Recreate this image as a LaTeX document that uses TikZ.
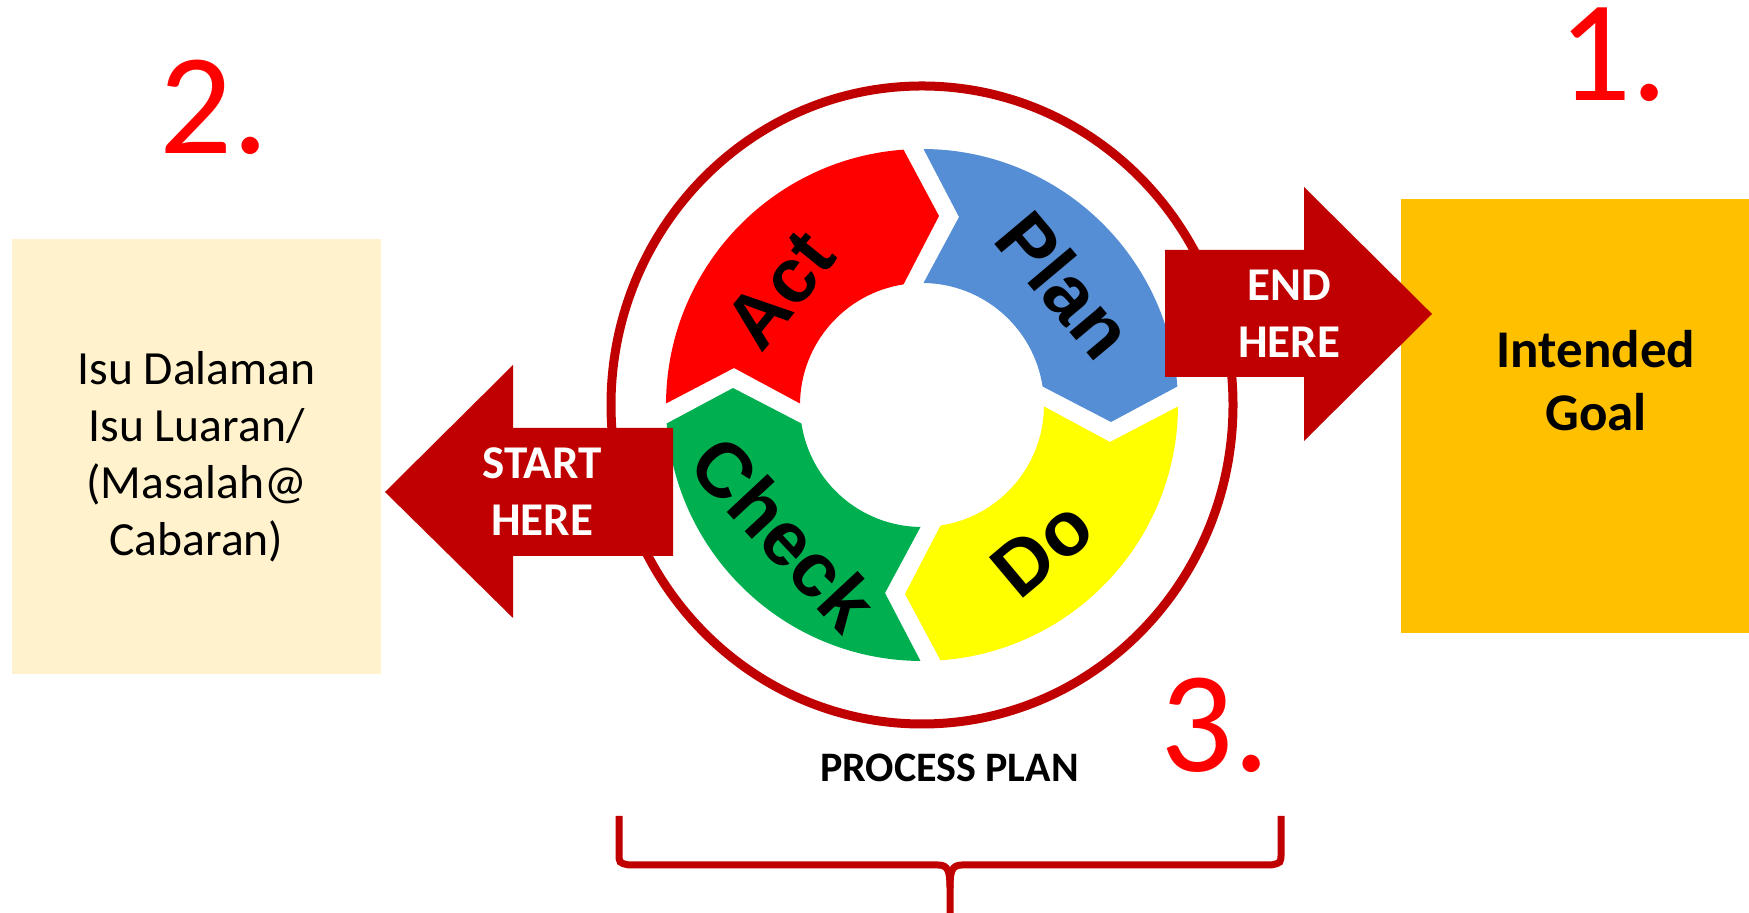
\documentclass[tikz,border=0pt]{standalone}
\usepackage{fontspec}
\setmainfont{Carlito}
\newfontfamily\pdcafont{Liberation Sans}
\definecolor{darkred}{HTML}{C00000}
\definecolor{numred}{HTML}{FF0000}
\definecolor{isucream}{HTML}{FFF2CC}
\definecolor{goalgold}{HTML}{FFC000}
\definecolor{planblue}{HTML}{558ED5}
\definecolor{doyellow}{HTML}{FFFF00}
\definecolor{checkgreen}{HTML}{00B050}
\definecolor{actred}{HTML}{FF0000}
\tikzset{
    num/.style={text=numred, font=\fontsize{72}{84}\selectfont, anchor=base},
    arrowtext/.style={text=white, align=center, font=\fontsize{23.5}{28.5}\selectfont\bfseries},
    pdca/.style={font=\pdcafont\fontsize{38.5}{46}\selectfont\bfseries, inner sep=0pt},
}

\begin{document}
\begin{tikzpicture}[x=0.5pt,y=0.5pt]
    \useasboundingbox (0,0) rectangle (1749,913);
    \coordinate (c) at (922,508);
    \draw[darkred, line width=4.5pt] (c) ellipse [x radius=311, y radius=319];
    % the four arrows of the cycle
    \foreach \k/\col in {0/planblue,1/doyellow,2/checkgreen,3/actred}{
        \begin{scope}[shift={(c)}, rotate=-90*\k]
            \fill[\col] (89.66:256) arc[start angle=89.66, end angle=4.14, radius=256] -- (189,-17) -- (8.72:122) arc[start angle=8.72, end angle=89.3, radius=122] -- (37,188) -- cycle;
        \end{scope}
    }
    \node[pdca, rotate=-50] (plan) at ([shift={(40:187)}]c) {Plan};
    \node[pdca, rotate=40] (do) at ([shift={(-50:187)}]c) {Do};
    \node[pdca, rotate=-47] (check) at ([shift={(223:188)}]c) {Check};
    \node[pdca, rotate=51] (act) at ([shift={(141:183)}]c) {Act};
    % left side
    \node[fill=isucream, minimum width=184.5pt, minimum height=217.5pt, align=center, font=\fontsize{23.8}{28.5}\selectfont] (isu) at (196.5,456.5) {Isu Dalaman\\Isu Luaran/\\(Masalah@\\Cabaran)};
    \fill[darkred] (385,421) -- (513,548) -- (513,485) -- (673,485) -- (673,357) -- (513,357) -- (513,295) -- cycle;
    \node[arrowtext] (start) at (542,421) {START\\HERE};
    % right side
    \node[fill=goalgold, minimum width=174pt, minimum height=217pt] (goalbox) at (1575,497) {};
    \node[align=center, font=\fontsize{26.5}{31.5}\selectfont\bfseries] (goal) at (1596,532) {Intended\\Goal};
    \fill[darkred] (1165,663) -- (1304,663) -- (1304,726) -- (1432,599) -- (1304,472) -- (1304,536) -- (1165,536) -- cycle;
    \node[arrowtext] (end) at (1289,599) {END\\HERE};
    % numbers
    \node[num] (one) at (1613,812) {1.};
    \node[num] (two) at (214,759) {2.};
    \node[num] (three) at (1215,141) {3.};
    % bottom
    \node[anchor=base, font=\fontsize{21}{24}\selectfont\bfseries] (process) at (949.5,131) {PROCESS PLAN};
    \draw[darkred, line width=3.5pt] (619,97) -- (619,60) .. controls (619,50) .. (629,48) -- (938,48) .. controls (948,48) and (950,42) .. (950,25) -- (950,-5);
    \draw[darkred, line width=3.5pt] (1281,97) -- (1281,60) .. controls (1281,50) .. (1271,48) -- (962,48) .. controls (952,48) and (950,42) .. (950,25);
\end{tikzpicture}
\end{document}
